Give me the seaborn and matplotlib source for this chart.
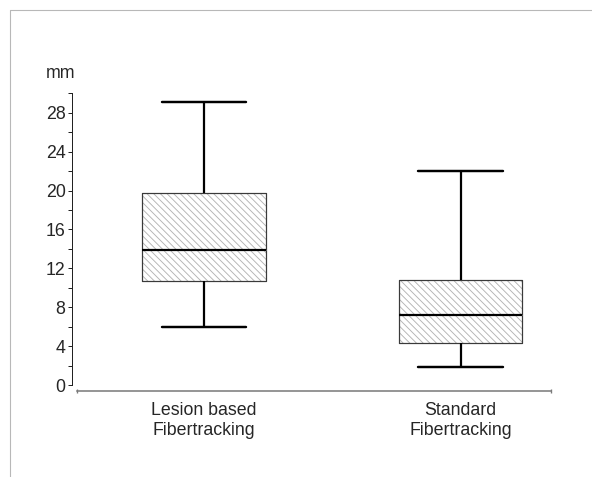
import numpy as np
import pandas as pd
import matplotlib
matplotlib.use("Agg")
import matplotlib.pyplot as plt
from matplotlib.lines import Line2D
import seaborn as sns

# five-number summaries: min, q1, median, q3, max (mm)
groups = ["Lesion based\nFibertracking", "Standard\nFibertracking"]
lesion_based = [6.0, 10.7, 13.9, 19.7, 29.1]
standard = [1.8, 4.3, 7.15, 10.8, 22.0]
y_ticks = [0, 4, 8, 12, 16, 20, 24, 28]
y_minor = [2, 6, 10, 14, 18, 22, 26, 30]

df = pd.DataFrame({
    "group": [groups[0]] * len(lesion_based) + [groups[1]] * len(standard),
    "mm": lesion_based + standard,
})

sns.set_style("ticks")
plt.rcParams["font.family"] = ["Liberation Sans", "DejaVu Sans"]
plt.rcParams["hatch.linewidth"] = 0.8

DPI = 80
fig = plt.figure(figsize=(592 / DPI, 477 / DPI), dpi=DPI)
ax = fig.add_axes([77 / 592, 1 - 385 / 477, (551 - 77) / 592, (385 - 93.3) / 477])

# hatched fill (hatch colour follows the patch edge colour)
sns.boxplot(data=df, x="group", y="mm", ax=ax, order=groups, whis=(0, 100),
            width=0.48, color="white", linecolor="#b3b3b3", linewidth=0.6,
            showfliers=False, capwidths=0.33)
for p in ax.patches:
    p.set_hatch("\\\\\\\\")

# outlines on top
sns.boxplot(data=df, x="group", y="mm", ax=ax, order=groups, whis=(0, 100),
            width=0.48, fill=False, linecolor="black", showfliers=False,
            capwidths=0.33,
            boxprops=dict(color="#3a3a3a", linewidth=1.1),
            medianprops=dict(color="black", linewidth=2.0),
            whiskerprops=dict(color="black", linewidth=2.0),
            capprops=dict(color="black", linewidth=2.2))

ax.set_xlim(-0.495, 1.352)
ax.set_ylim(0, 30)
ax.set_xlabel("")
ax.set_ylabel("")
ax.set_yticks(y_ticks)
ax.set_yticks(y_minor, minor=True)
ax.set_xticks([0, 1])
ax.set_xticklabels(groups)
ax.set_xticks([-0.495, 1.352], minor=True)

sns.despine(ax=ax)
ax.spines["left"].set_position(("outward", 4.5))
ax.spines["bottom"].set_position(("outward", 5.4))
ax.spines["left"].set_bounds(0, 30)
ax.spines["left"].set_linewidth(0.9)
ax.spines["left"].set_color("#222222")
ax.spines["bottom"].set_linewidth(1.4)
ax.spines["bottom"].set_color("#7a7a7a")

ax.tick_params(axis="y", which="both", length=3.3, width=0.9, pad=2.5,
               labelsize=16, color="#222222", direction="out")
ax.tick_params(axis="x", which="major", length=0, pad=10, labelsize=16)
ax.tick_params(axis="x", which="minor", length=3, width=1.2,
               direction="inout", color="#7a7a7a")

fig.text(61 / 592, 1 - 73 / 477, "mm", ha="center", va="center", fontsize=16)

# thin frame along the top and left edge
bx, by = 10 / 592, 1 - 10 / 477
fig.add_artist(Line2D([bx, bx, 1.0], [0.0, by, by], transform=fig.transFigure,
                      color="#b8b8b8", linewidth=1.0))

fig.savefig("out.png", dpi=DPI)
